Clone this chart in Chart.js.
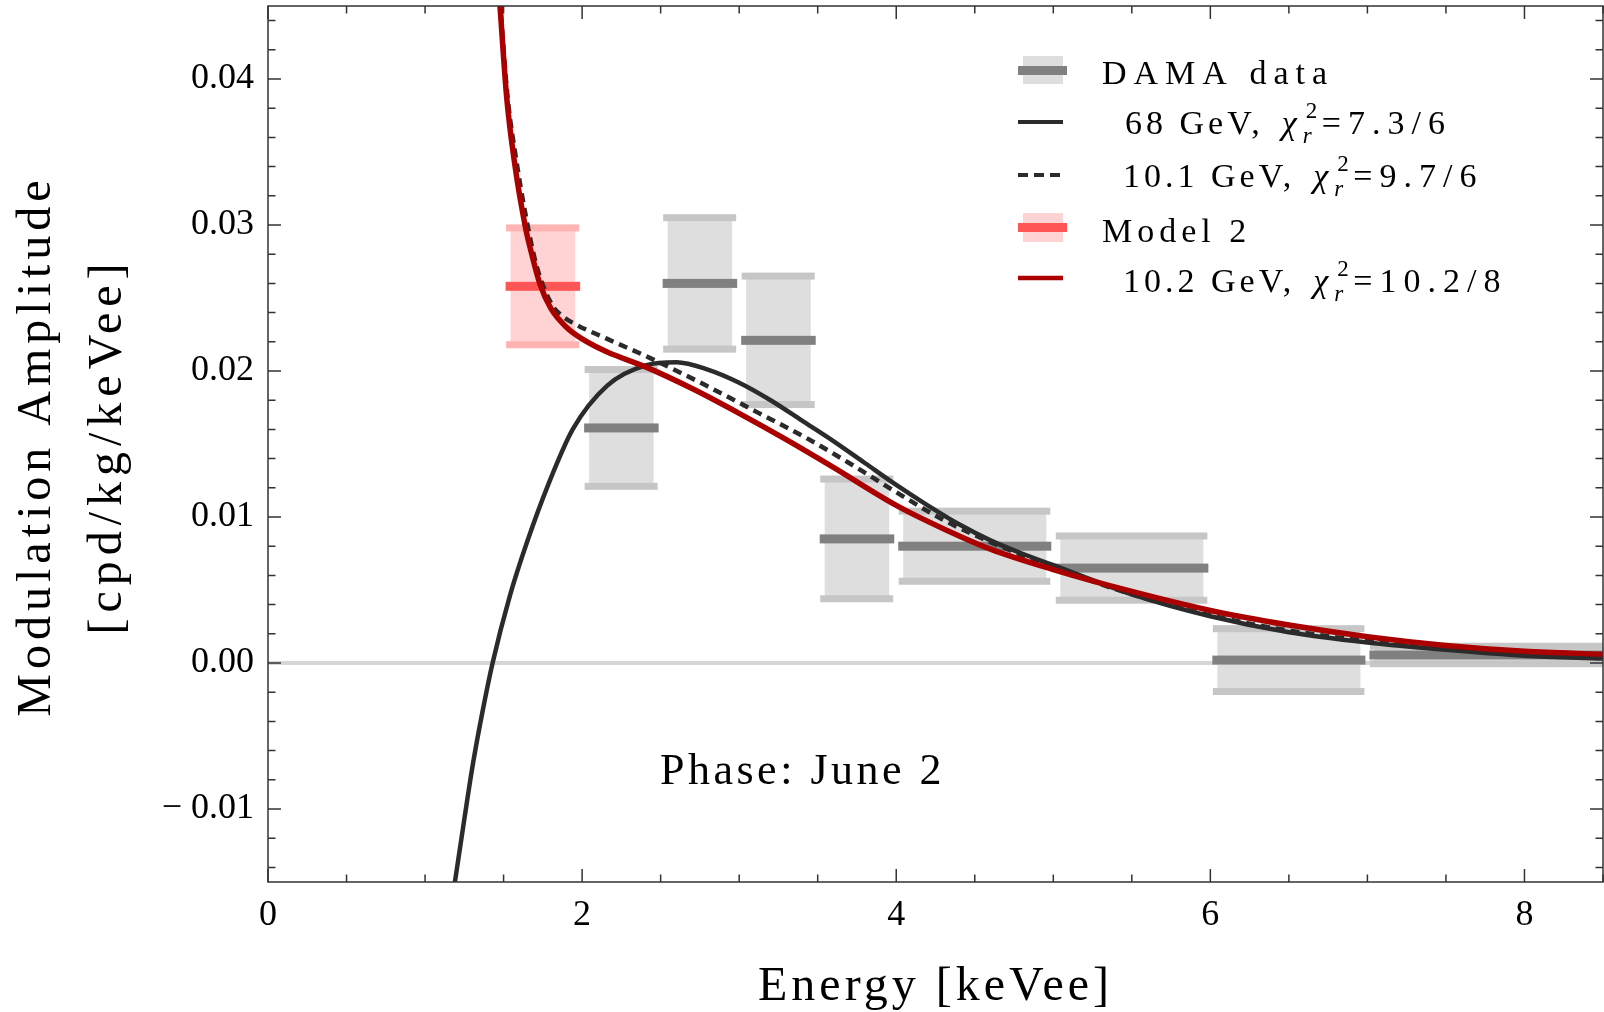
<!DOCTYPE html>
<html>
<head>
<meta charset="utf-8">
<script src="https://cdn.jsdelivr.net/npm/chart.js@4.4.0/dist/chart.umd.min.js"></script>
<style>
    html, body { margin: 0; padding: 0; background: #fff; }
    #chart { display: block; }
</style>
</head>
<body>
<canvas id="chart" width="1604" height="1012"></canvas>
<script>
// DAMA modulation amplitude, bins in keVee, values in cpd/kg/keVee
const damaLow  = [2.0, 2.5, 3.0, 3.5, 4.0, 5.0, 6.0, 7.0];
const damaHigh = [2.5, 3.0, 3.5, 4.0, 5.0, 6.0, 7.0, 20.0];
const damaVal  = [0.0161, 0.0260, 0.0221, 0.0085, 0.0080, 0.0065, 0.0002, 0.00055];
const damaErr  = [0.0040, 0.0045, 0.0044, 0.0041, 0.0024, 0.0022, 0.00215, 0.0006];

// Model 2 extra bin
const model2Low  = [1.5];
const model2High = [2.0];
const model2Val  = [0.0258];
const model2Err  = [0.0040];

// 68 GeV curve
const e68 = [1.16, 1.19, 1.25, 1.305, 1.37, 1.43, 1.54, 1.65, 1.78, 1.94, 2.16, 2.41, 2.6, 2.8, 3.0, 3.2, 3.4, 3.6, 3.8, 4.0, 4.2, 4.4, 4.6, 4.8, 5.0, 5.5, 6.0, 6.5, 7.0, 7.5, 8.0, 8.5];
const a68 = [-0.0172, -0.0150, -0.0107, -0.0069, -0.0031, 0.0000, 0.0046, 0.0083, 0.0121, 0.0160, 0.0190, 0.0204, 0.0206, 0.0201, 0.0192, 0.0180, 0.0166, 0.0152, 0.0137, 0.0122, 0.0108, 0.0095, 0.0084, 0.0075, 0.0067, 0.0047, 0.0032, 0.0021, 0.0014, 0.0009, 0.0005, 0.0003];

// 10.1 GeV curve (dashed)
const e101 = [1.465, 1.48, 1.525, 1.58, 1.64, 1.71, 1.81, 1.87, 1.94, 2.16, 2.43, 2.79, 3.11, 3.43, 3.7, 4.0, 4.3, 4.66, 5.0, 5.5, 6.2, 7.0, 8.0, 8.5];
const a101 = [0.0475, 0.0450, 0.0388, 0.0345, 0.0307, 0.0272, 0.0245, 0.0238, 0.0233, 0.0222, 0.0209, 0.0190, 0.0172, 0.0154, 0.0137, 0.0117, 0.0098, 0.0080, 0.0066, 0.0047, 0.0028, 0.0015, 0.0006, 0.0004];

// 10.2 GeV curve (Model 2)
const e102 = [1.46, 1.477, 1.52, 1.572, 1.64, 1.67, 1.73, 1.80, 1.90, 2.0, 2.16, 2.4, 2.7, 3.0, 3.3, 3.6, 4.0, 4.3, 4.6, 5.0, 5.5, 6.0, 6.5, 7.0, 7.5, 8.0, 8.5];
const a102 = [0.0475, 0.0450, 0.0387, 0.0341, 0.0298, 0.0284, 0.0260, 0.0243, 0.0230, 0.0222, 0.0213, 0.0203, 0.0188, 0.0171, 0.0153, 0.0134, 0.0108, 0.0092, 0.0078, 0.0064, 0.0049, 0.0036, 0.0026, 0.0018, 0.0012, 0.0008, 0.0006];

// axes
const xTicks = [0, 2, 4, 6, 8];
const yTicks = [-0.01, 0, 0.01, 0.02, 0.03, 0.04];
const yTickLabels = ['\u2212 0.01', '0.00', '0.01', '0.02', '0.03', '0.04'];

const SERIF = '"Liberation Serif", "Times New Roman", serif';

function toPoints(xs, ys) {
    return xs.map((x, i) => ({ x: x, y: ys[i] }));
}

function drawBins(ctx, x, y, lo, hi, val, err, col) {
    lo.forEach((l, i) => {
        const xl = x.getPixelForValue(l);
        const xr = x.getPixelForValue(hi[i]);
        const yt = y.getPixelForValue(val[i] + err[i]);
        const yb = y.getPixelForValue(val[i] - err[i]);
        const yc = y.getPixelForValue(val[i]);
        ctx.fillStyle = col.box;
        ctx.fillRect(xl + 7, yt, xr - xl - 14, yb - yt);
        ctx.fillStyle = col.cap;
        ctx.fillRect(xl + 2.5, yt - 3.5, xr - xl - 5.5, 7);
        ctx.fillRect(xl + 2.5, yb - 3.5, xr - xl - 5.5, 7);
        ctx.fillStyle = col.mid;
        ctx.fillRect(xl + 2, yc - 4.5, xr - xl - 4, 9);
    });
}

const grayCol = { box: '#dedede', cap: '#c6c6c6', mid: '#808080' };
const redCol  = { box: '#ffd3d3', cap: '#ffb3b3', mid: '#ff5555' };

// legend text with the chi^2_r part
function chiText(ctx, x, base, pre, post) {
    ctx.font = '34px ' + SERIF;
    ctx.letterSpacing = '4px';
    ctx.fillText(pre, x, base);
    let cx = x + ctx.measureText(pre).width + 18;
    ctx.font = 'italic 34px ' + SERIF;
    ctx.letterSpacing = '0px';
    ctx.fillText('\u03c7', cx, base);
    cx += ctx.measureText('\u03c7').width + 6;
    ctx.font = '23px ' + SERIF;
    ctx.fillText('2', cx + 3, base - 16);
    ctx.font = 'italic 23px ' + SERIF;
    ctx.fillText('r', cx, base + 9);
    cx += 19;
    ctx.font = '34px ' + SERIF;
    ctx.letterSpacing = '7px';
    ctx.fillText(post, cx, base);
    ctx.letterSpacing = '0px';
}

function noPad(s) {
    s.paddingTop = 0;
    s.paddingBottom = 0;
    s.paddingLeft = 0;
    s.paddingRight = 0;
}

const framePlugin = {
    id: 'framePlugin',
    beforeDatasetsDraw(chart) {
        const { ctx, chartArea: a, scales: { x, y } } = chart;
        ctx.save();
        ctx.beginPath();
        ctx.rect(a.left, a.top, a.right - a.left, a.bottom - a.top);
        ctx.clip();
        const y0 = y.getPixelForValue(0);
        ctx.fillStyle = '#d6d6d6';
        ctx.fillRect(a.left, y0 - 2, a.right - a.left, 4);
        drawBins(ctx, x, y, damaLow, damaHigh, damaVal, damaErr, grayCol);
        drawBins(ctx, x, y, model2Low, model2High, model2Val, model2Err, redCol);
        ctx.restore();
    },
    afterDraw(chart) {
        const { ctx, chartArea: a, scales: { x, y } } = chart;
        ctx.save();
        // frame
        ctx.strokeStyle = '#333';
        ctx.lineWidth = 1.5;
        ctx.strokeRect(a.left, a.top, a.right - a.left, a.bottom - a.top);
        // inward ticks on all sides
        ctx.beginPath();
        for (let k = 0; k <= 17; k++) {
            const px = x.getPixelForValue(k * 0.5);
            const len = (k % 4 === 0) ? 13 : 7.5;
            ctx.moveTo(px, a.bottom); ctx.lineTo(px, a.bottom - len);
            ctx.moveTo(px, a.top); ctx.lineTo(px, a.top + len);
        }
        for (let k = -7; k <= 22; k++) {
            const py = y.getPixelForValue(k * 0.002);
            const len = (k % 5 === 0) ? 13 : 7.5;
            ctx.moveTo(a.left, py); ctx.lineTo(a.left + len, py);
            ctx.moveTo(a.right, py); ctx.lineTo(a.right - len, py);
        }
        ctx.stroke();

        ctx.fillStyle = '#000';
        // x title
        ctx.font = '48px ' + SERIF;
        ctx.letterSpacing = '4px';
        ctx.textAlign = 'center';
        ctx.textBaseline = 'alphabetic';
        ctx.fillText('Energy [keVee]', (a.left + a.right) / 2, 1000);
        // y title, two lines
        ctx.letterSpacing = '5px';
        ctx.save();
        ctx.translate(50, 446);
        ctx.rotate(-Math.PI / 2);
        ctx.fillText('Modulation Amplitude', 0, 0);
        ctx.restore();
        ctx.letterSpacing = '6px';
        ctx.save();
        ctx.translate(121, 446);
        ctx.rotate(-Math.PI / 2);
        ctx.fillText('[cpd/kg/keVee]', 0, 0);
        ctx.restore();

        // annotation
        ctx.textAlign = 'left';
        ctx.font = '44px ' + SERIF;
        ctx.letterSpacing = '3.5px';
        ctx.fillText('Phase: June 2', 660, 784);

        // legend
        ctx.letterSpacing = '0px';
        ctx.fillStyle = '#dedede';
        ctx.fillRect(1023, 56, 40, 28);
        ctx.fillStyle = '#808080';
        ctx.fillRect(1018, 66, 49, 9);
        ctx.fillStyle = '#ffd3d3';
        ctx.fillRect(1023, 213, 40, 29);
        ctx.fillStyle = '#ff5555';
        ctx.fillRect(1018, 223, 49, 9);

        ctx.lineWidth = 4;
        ctx.strokeStyle = '#2b2b2b';
        ctx.beginPath(); ctx.moveTo(1018, 122); ctx.lineTo(1063, 122); ctx.stroke();
        ctx.setLineDash([10, 6]);
        ctx.beginPath(); ctx.moveTo(1018, 175); ctx.lineTo(1062, 175); ctx.stroke();
        ctx.setLineDash([]);
        ctx.strokeStyle = '#aa0000';
        ctx.lineWidth = 4.5;
        ctx.beginPath(); ctx.moveTo(1018, 278); ctx.lineTo(1063, 278); ctx.stroke();

        ctx.fillStyle = '#000';
        ctx.font = '34px ' + SERIF;
        ctx.letterSpacing = '7px';
        ctx.fillText('DAMA data', 1102, 84);
        ctx.letterSpacing = '5px';
        ctx.fillText('Model 2', 1102, 242);
        chiText(ctx, 1125, 134, '68 GeV,', '=7.3/6');
        chiText(ctx, 1123, 187, '10.1 GeV,', '=9.7/6');
        chiText(ctx, 1123, 292, '10.2 GeV,', '=10.2/8');
        ctx.restore();
    }
};

const ctx = document.getElementById('chart').getContext('2d');
new Chart(ctx, {
    type: 'line',
    data: {
        datasets: [
            {
                label: '10.2 GeV',
                data: toPoints(e102, a102),
                borderColor: '#aa0000',
                borderWidth: 5.5,
                pointRadius: 0,
                cubicInterpolationMode: 'monotone',
                clip: 0
            },
            {
                label: '10.1 GeV',
                data: toPoints(e101, a101),
                borderColor: '#2b2b2b',
                borderWidth: 4.5,
                borderDash: [9, 6],
                pointRadius: 0,
                cubicInterpolationMode: 'monotone',
                clip: 0
            },
            {
                label: '68 GeV',
                data: toPoints(e68, a68),
                borderColor: '#2b2b2b',
                borderWidth: 4.5,
                pointRadius: 0,
                cubicInterpolationMode: 'monotone',
                clip: 0
            }
        ]
    },
    options: {
        responsive: false,
        animation: false,
        layout: { padding: { top: 6, right: 1, left: 0, bottom: 0 } },
        plugins: {
            legend: { display: false },
            tooltip: { enabled: false }
        },
        scales: {
            x: {
                type: 'linear',
                min: 0,
                max: 8.5,
                grid: { display: false, drawTicks: false },
                border: { display: false },
                afterFit: function(s) { s.height = 130; noPad(s); },
                afterBuildTicks: function(s) { s.ticks = xTicks.map(v => ({ value: v })); },
                ticks: {
                    font: { family: SERIF, size: 36 },
                    color: '#000',
                    padding: 12,
                    maxRotation: 0,
                    autoSkip: false,
                    callback: function(v) { return String(v); }
                }
            },
            y: {
                type: 'linear',
                min: -0.015,
                max: 0.045,
                grid: { display: false, drawTicks: false },
                border: { display: false },
                afterFit: function(s) { s.width = 268; noPad(s); },
                afterBuildTicks: function(s) { s.ticks = yTicks.map(v => ({ value: v })); },
                ticks: {
                    font: { family: SERIF, size: 36 },
                    color: '#000',
                    padding: 14,
                    autoSkip: false,
                    callback: function(v, i) { return yTickLabels[i]; }
                }
            }
        }
    },
    plugins: [framePlugin]
});
</script>
</body>
</html>
